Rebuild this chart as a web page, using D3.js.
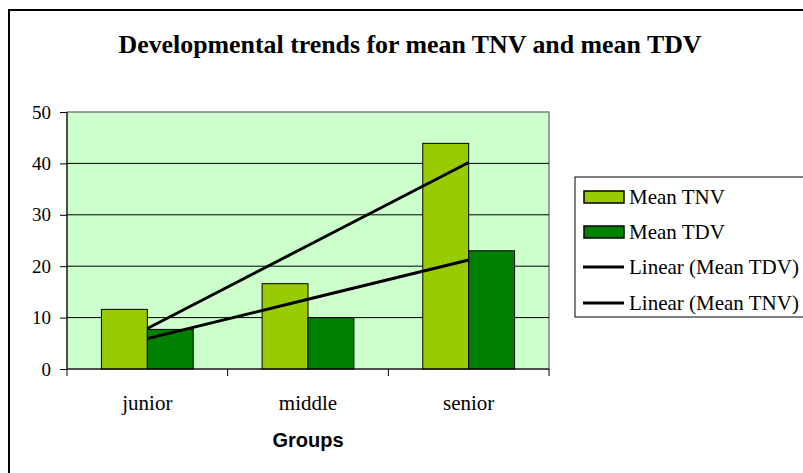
<!DOCTYPE html>
<meta charset="utf-8">
<script src="https://d3js.org/d3.v7.min.js"></script>
<style>
  body { margin: 0; background: #fff; }
</style>
<div id="chart"></div>
<script>
  // chart data
  const groups = ["junior", "middle", "senior"];
  const seriesNames = ["Mean TNV", "Mean TDV"];
  const meanTNV = [11.6, 16.6, 43.9];
  const meanTDV = [7.7, 10.0, 23.0];
  const yTicks = [0, 10, 20, 30, 40, 50];
  const colors = ["#99cc00", "#008000"];

  const W = 803, H = 473;
  const plot = { left: 67, top: 112, right: 549, bottom: 369 };
  const serif = "'Liberation Serif', 'Times New Roman', serif";

  const svg = d3.select("#chart").append("svg")
    .attr("width", W).attr("height", H);

  // outer chart border (runs off the right and bottom edges)
  svg.append("rect")
    .attr("x", 9).attr("y", 10)
    .attr("width", 820).attr("height", 480)
    .attr("fill", "#fff").attr("stroke", "#000").attr("stroke-width", 2);

  // title
  svg.append("text")
    .attr("x", 410).attr("y", 53)
    .attr("text-anchor", "middle")
    .style("font-family", serif)
    .style("font-weight", "bold")
    .style("font-size", "25px")
    .attr("textLength", 583)
    .attr("lengthAdjust", "spacingAndGlyphs")
    .text("Developmental trends for mean TNV and mean TDV");

  // scales
  const x0 = d3.scaleBand().domain(groups).range([plot.left, plot.right]).padding(0);
  const x1 = d3.scaleBand().domain(seriesNames).range([0, x0.bandwidth()])
    .paddingInner(0).paddingOuter(0.75);
  const y = d3.scaleLinear().domain([0, 50]).range([plot.bottom, plot.top]);

  // plot background
  svg.append("rect")
    .attr("x", plot.left).attr("y", plot.top)
    .attr("width", plot.right - plot.left).attr("height", plot.bottom - plot.top)
    .attr("fill", "#ccffcc").attr("stroke", "#808080").attr("stroke-width", 1.5);

  // gridlines
  svg.append("g").selectAll("line")
    .data(yTicks.filter(d => d > 0 && d < 50))
    .join("line")
    .attr("x1", plot.left).attr("x2", plot.right)
    .attr("y1", d => y(d)).attr("y2", d => y(d))
    .attr("stroke", "#000").attr("stroke-width", 1);

  // bars
  const series = [meanTNV, meanTDV];
  series.forEach((vals, si) => {
    svg.append("g").selectAll("rect")
      .data(groups.map((g, i) => ({ g, v: vals[i] })))
      .join("rect")
      .attr("x", d => x0(d.g) + x1(seriesNames[si]))
      .attr("y", d => y(d.v))
      .attr("width", x1.bandwidth())
      .attr("height", d => y(0) - y(d.v))
      .attr("fill", colors[si])
      .attr("stroke", "#000").attr("stroke-width", 1);
  });

  // linear trendlines (least squares over group index 1..n)
  function trend(vals) {
    const xs = vals.map((_, i) => i + 1);
    const mx = d3.mean(xs), my = d3.mean(vals);
    const b = d3.sum(xs.map((xv, i) => (xv - mx) * (vals[i] - my))) /
              d3.sum(xs.map(xv => (xv - mx) * (xv - mx)));
    const a = my - b * mx;
    return groups.map((g, i) => ({ g, v: a + b * (i + 1) }));
  }
  const line = d3.line()
    .x(d => x0(d.g) + x0.bandwidth() / 2)
    .y(d => y(d.v));
  [meanTDV, meanTNV].forEach(vals => {
    svg.append("path")
      .datum(trend(vals))
      .attr("d", line)
      .attr("fill", "none")
      .attr("stroke", "#000")
      .attr("stroke-width", 3);
  });

  // y axis
  const yAxis = svg.append("g")
    .attr("transform", `translate(${plot.left},0)`)
    .call(d3.axisLeft(y).tickValues(yTicks).tickSize(7).tickPadding(9));
  yAxis.select(".domain").attr("stroke", "#000").attr("d", `M0,${plot.top}V${plot.bottom}`);
  yAxis.selectAll("text")
    .style("font-family", serif)
    .style("font-size", "19px").attr("fill", "#000");

  // x axis
  const xAxis = svg.append("g")
    .attr("transform", `translate(0,${plot.bottom})`)
    .call(d3.axisBottom(x0).tickSize(0).tickPadding(26));
  xAxis.select(".domain").attr("stroke", "#000").attr("d", `M${plot.left},0H${plot.right}`);
  xAxis.selectAll("text")
    .style("font-family", serif)
    .style("font-size", "21px").attr("fill", "#000");
  // category boundary ticks
  xAxis.append("g").selectAll("line")
    .data(groups.map(g => x0(g)).concat([plot.right]))
    .join("line")
    .attr("x1", d => d).attr("x2", d => d)
    .attr("y1", 0).attr("y2", 7)
    .attr("stroke", "#000");

  // x axis title
  svg.append("text")
    .attr("x", 308).attr("y", 447)
    .attr("text-anchor", "middle")
    .style("font-family", "'Liberation Sans', Arial, sans-serif")
    .style("font-weight", "bold")
    .style("font-size", "20px")
    .text("Groups");

  // legend
  const legend = svg.append("g");
  legend.append("rect")
    .attr("x", 575).attr("y", 177)
    .attr("width", 260).attr("height", 140)
    .attr("fill", "#fff").attr("stroke", "#000").attr("stroke-width", 1);
  const legendItems = [
    { label: "Mean TNV", type: "bar", color: colors[0] },
    { label: "Mean TDV", type: "bar", color: colors[1] },
    { label: "Linear (Mean TDV)", type: "line" },
    { label: "Linear (Mean TNV)", type: "line" }
  ];
  const rowY = [197, 232, 267, 303];
  legendItems.forEach((d, i) => {
    const cy = rowY[i];
    if (d.type === "bar") {
      legend.append("rect")
        .attr("x", 584).attr("y", cy - 6)
        .attr("width", 40).attr("height", 12)
        .attr("fill", d.color).attr("stroke", "#000").attr("stroke-width", 1.5);
    } else {
      legend.append("line")
        .attr("x1", 583).attr("x2", 624)
        .attr("y1", cy).attr("y2", cy)
        .attr("stroke", "#000").attr("stroke-width", 3);
    }
    legend.append("text")
      .attr("x", 629).attr("y", cy + 7)
      .style("font-family", serif)
      .style("font-size", "21px")
      .text(d.label);
  });
</script>
